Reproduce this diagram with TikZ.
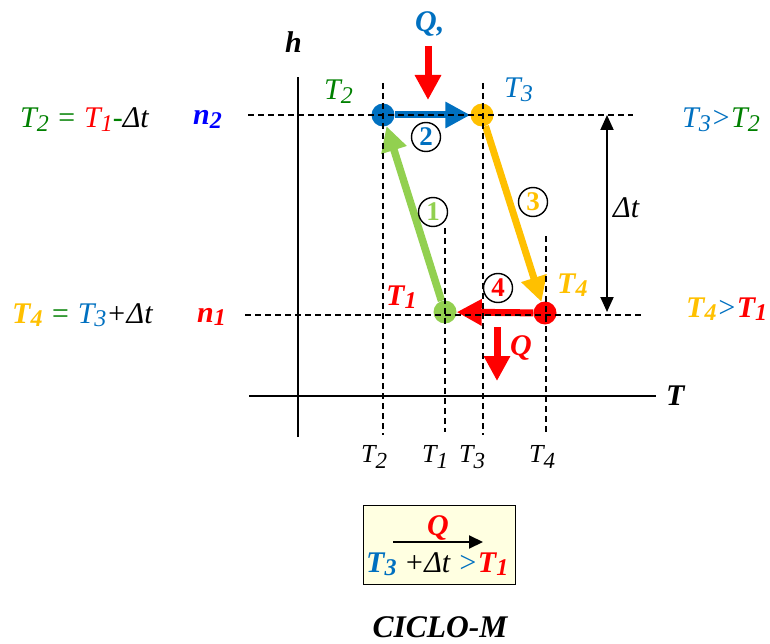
\documentclass[tikz,border=0pt]{standalone}
\usepackage{fontspec}
\setmainfont{Liberation Serif}[
  UprightFont={Liberation Serif},
  BoldFont={Liberation Serif Bold},
  ItalicFont={Liberation Serif Italic},
  BoldItalicFont={Liberation Serif Bold Italic}]
\usetikzlibrary{arrows.meta}
\definecolor{cgreen}{HTML}{008000}
\definecolor{clgreen}{HTML}{92D050}
\definecolor{cblue}{HTML}{0070C0}
\definecolor{pblue}{HTML}{0000FF}
\definecolor{cyellow}{HTML}{FFC000}
\definecolor{cred}{HTML}{FF0000}
\definecolor{boxfill}{HTML}{FFFFE1}
\newcommand{\sbs}[1]{\raisebox{-3.5pt}{\fontsize{24}{24}\selectfont #1}}
\newcommand{\sbb}[1]{\raisebox{-6pt}{\fontsize{23}{23}\selectfont #1}}
\begin{document}
\begin{tikzpicture}[x=1pt,y=-1pt,
 lbl/.style={font=\fontsize{30}{34}\selectfont\itshape, inner sep=0pt},
 blbl/.style={font=\fontsize{30}{34}\selectfont\bfseries\itshape, inner sep=0pt},
 slbl/.style={font=\fontsize{26}{30}\selectfont\itshape, inner sep=0pt},
 dot/.style={circle, inner sep=0pt, minimum size=23pt},
 cnum/.style={circle, draw=black, line width=1.4pt, inner sep=0pt, minimum size=29pt, font=\fontsize{27}{27}\selectfont\bfseries},
 fat/.style={line width=7pt, -{Triangle[length=25pt,width=25pt]}},
 grid/.style={dash pattern=on 6pt off 4pt, line width=1.4pt},
 axis/.style={line width=2pt}]
\useasboundingbox (0,0) rectangle (770,644);

% axes
\coordinate (hb) at (298,437); \coordinate (ht) at (298,77);
\coordinate (tl) at (249,396); \coordinate (tr) at (656,396);
\draw[axis] (hb) -- (ht);
\draw[axis] (tl) -- (tr);

% state points
\node[dot, fill=cblue]   (p2) at (383,115) {};
\node[dot, fill=cyellow] (p3) at (482,115) {};
\node[dot, fill=clgreen] (p1) at (445,312) {};
\node[dot, fill=cred]    (p4) at (545,313) {};

% process arrows
\draw[fat, clgreen, line width=7.5pt] (p1) -- (p2);
\draw[fat, cblue] (p2) -- (p3);
\draw[fat, cyellow] (p3) -- (p4);
\draw[fat, cred] (p4) -- (p1);

% heat arrows
\coordinate (qa) at (428,46); \coordinate (qb) at (428,100);
\draw[fat, cred] (qa) -- (qb);
\coordinate (qc) at (497,327); \coordinate (qd) at (497,381);
\draw[fat, cred] (qc) -- (qd);

% dashed grid
\draw[grid] (248,115) -- (633,115);
\draw[grid] (245,315) -- (642,315);
\draw[grid] (383,83) -- (383,435);
\draw[grid] (483,83) -- (483,435);
\draw[grid] (445,228) -- (445,432);
\draw[grid] (546,236) -- (546,435);

% delta t arrow
\coordinate (dta) at (607,115); \coordinate (dtb) at (607,312);
\draw[line width=2pt, {Triangle[length=15pt,width=13pt]}-{Triangle[length=15pt,width=13pt]}] (dta) -- (dtb);
\node[lbl, anchor=base west] (dt) at (613,218) {Δt};

% circled numbers
\node[cnum, text=cblue]   (c2) at (426,137) {2};
\node[cnum, text=clgreen] (c1) at (433,212) {1};
\node[cnum, text=cyellow] (c3) at (533,202) {3};
\node[cnum, text=cred]    (c4) at (498,288) {4};

% labels near points
\node[blbl, text=cblue, anchor=base west] (qtop) at (415,32) {Q,};
\node[lbl, text=cgreen, anchor=base west] (lt2) at (324,100) {T\sbs{2}};
\node[lbl, text=cblue, anchor=base west] (lt3) at (504,98) {T\sbs{3}};
\node[blbl, text=cred, anchor=base west] (lt1) at (386,305) {T\sbs{1}};
\node[blbl, text=cyellow, anchor=base west] (lt4) at (557,293) {T\sbs{4}};
\node[blbl, text=cred, anchor=base west] (qbot) at (510,355) {Q};

% axis labels
\node[blbl, anchor=base west] (h) at (285,53) {h};
\node[blbl, anchor=base west] (T) at (666,405) {T};
\node[slbl, anchor=base west] (b2) at (361,462) {T\sbb{2}};
\node[slbl, anchor=base west] (b1) at (422,462) {T\sbb{1}};
\node[slbl, anchor=base west] (b3) at (459,462) {T\sbb{3}};
\node[slbl, anchor=base west] (b4) at (529,462) {T\sbb{4}};

% left side
\node[lbl, anchor=base west] (eq2) at (20,128) {\color{cgreen}T\sbs{2} = \color{cred}T\sbs{1}\color{cgreen}-\color{black}Δt};
\node[blbl, text=pblue, anchor=base west] (n2) at (193,125) {n\sbs{2}};
\node[lbl, anchor=base west] (eq4) at (12,323) {\bfseries\color{cyellow}T\sbs{4}\mdseries\color{cgreen}{} = \color{cblue}T\sbs{3}\color{black}+Δt};
\node[blbl, text=cred, anchor=base west] (n1) at (197,322) {n\sbs{1}};

% right side
\node[lbl, anchor=base west] (r1) at (682,128) {\color{cblue}T\sbs{3}>\color{cgreen}T\sbs{2}};
\node[lbl, anchor=base west] (r2) at (686,317) {\bfseries\color{cyellow}T\sbs{4}\mdseries\color{cblue}>\bfseries\color{cred}T\sbs{1}};

% box
\node[draw, line width=1pt, fill=boxfill, minimum width=152pt, minimum height=79pt, inner sep=0pt] (box) at (439,544.5) {};
\node[blbl, text=cred, anchor=base] (bq) at (438,535) {Q};
\coordinate (ba) at (393,542); \coordinate (bb) at (483,542);
\draw[line width=2pt, -{Triangle[length=14pt,width=13pt]}] (ba) -- (bb);
\node[lbl, anchor=base west] (bt) at (366,572) {\bfseries\color{cblue}T\sbs{3} \mdseries\color{black}+Δt \color{cblue}>\bfseries\color{cred}T\sbs{1}};

\node[blbl, anchor=base, font=\fontsize{31.5}{34}\selectfont\bfseries\itshape] (title) at (440,637) {CICLO-M};
\end{tikzpicture}
\end{document}
